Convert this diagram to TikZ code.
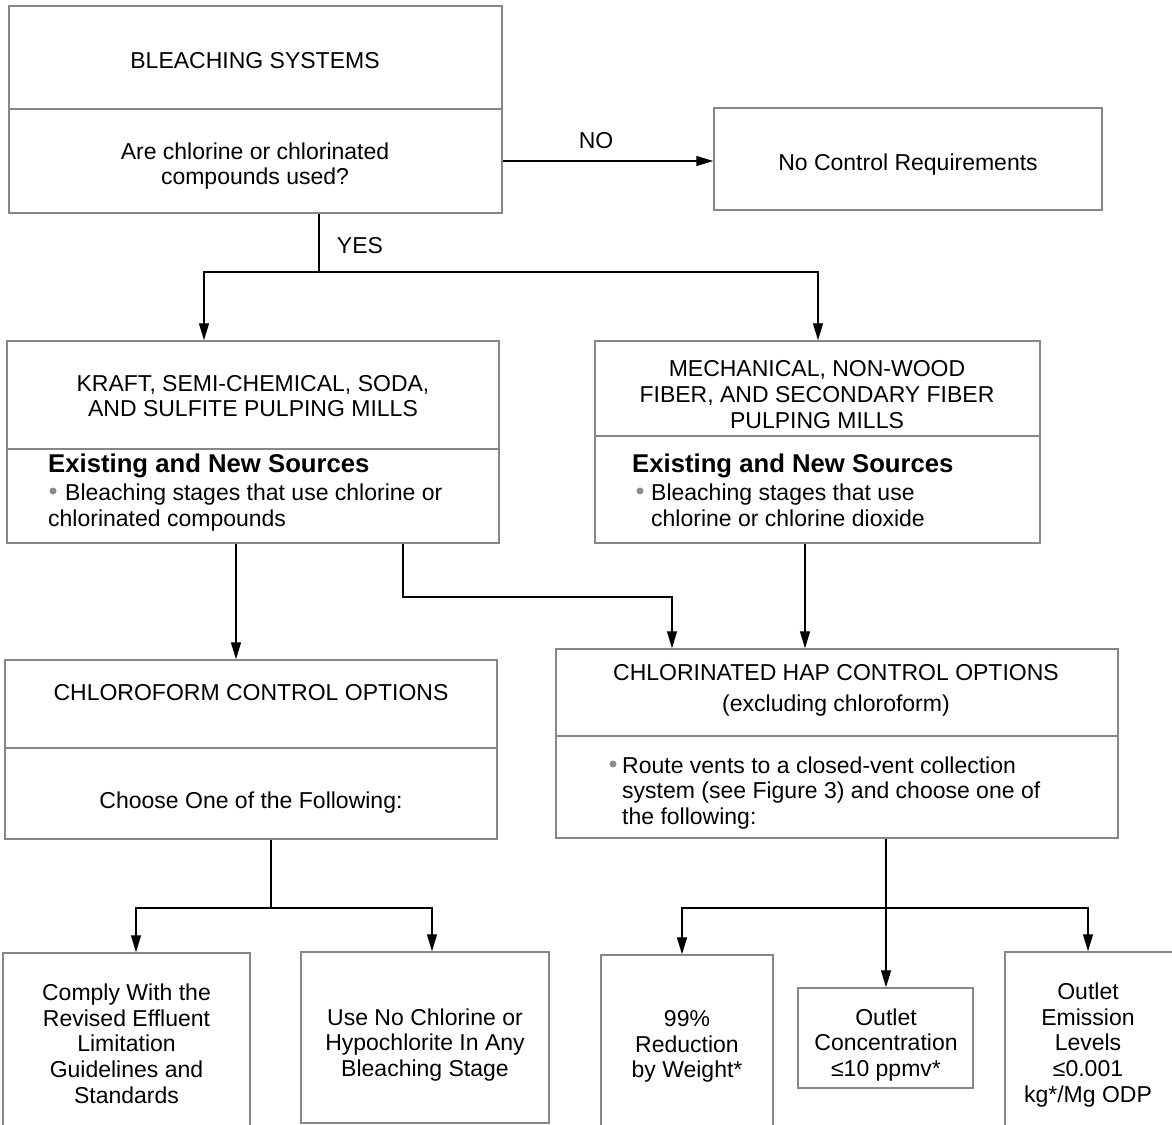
\documentclass[tikz,border=0pt]{standalone}
\usepackage{fontspec}
\setmainfont{Liberation Sans}
\usetikzlibrary{arrows.meta,calc}
\definecolor{boxgray}{RGB}{135,135,135}
\definecolor{dotgray}{RGB}{140,140,140}
\begin{document}
\begin{tikzpicture}[x=1pt,y=-1pt,
  box/.style={draw=boxgray,line width=1.5pt,inner sep=0pt,rectangle},
  txt/.style={font=\fontsize{23}{25.7}\selectfont,align=center,inner sep=0pt},
  hdr/.style={font=\fontsize{25.7}{28}\selectfont\bfseries,inner sep=0pt,anchor=base west},
  ltxt/.style={font=\fontsize{23}{25.7}\selectfont,inner sep=0pt,anchor=base west},
  conn/.style={draw=black,line width=1.4pt},
  arr/.style={conn,-{Triangle[length=17pt,width=10pt]}},
  dot/.style={circle,fill=dotgray,inner sep=0pt,minimum size=7pt}]
\useasboundingbox (0,0) rectangle (1172,1124);
\clip (0,0) rectangle (1172,1124);
\fill[white] (0,0) rectangle (1172,1124);

% boxes
\node[box,minimum width=493,minimum height=103] (bs) at (255.5,57.5) {};
\node[box,minimum width=493,minimum height=104] (q) at (255.5,161) {};
\node[box,minimum width=388,minimum height=102] (ncr) at (908,159) {};
\node[box,minimum width=492,minimum height=108] (kraft) at (253,395) {};
\node[box,minimum width=492,minimum height=94] (ksrc) at (253,496) {};
\node[box,minimum width=445,minimum height=95] (mech) at (817.5,388.5) {};
\node[box,minimum width=445,minimum height=107] (msrc) at (817.5,489.5) {};
\node[box,minimum width=492,minimum height=88] (chl) at (251,704) {};
\node[box,minimum width=492,minimum height=91] (chl2) at (251,793.5) {};
\node[box,minimum width=562,minimum height=87] (hap) at (837,692.5) {};
\node[box,minimum width=562,minimum height=102] (hap2) at (837,787) {};
\node[box,minimum width=247,minimum height=177] (b1) at (126.5,1041.5) {};
\node[box,minimum width=248,minimum height=171] (b2) at (425,1037.5) {};
\node[box,minimum width=172,minimum height=175] (b3) at (687,1042.5) {};
\node[box,minimum width=175,minimum height=100] (b4) at (885.5,1038) {};
\node[box,minimum width=175,minimum height=178] (b5) at (1092.5,1041) {};

% texts
\node[txt,anchor=base] (t1) at (255,69) {BLEACHING SYSTEMS};
\node[txt] (t2) at (255,166) {Are chlorine or chlorinated\\compounds used?};
\node[txt,anchor=base] (tno) at (596,148) {NO};
\node[txt,anchor=base] (tncr) at (908,170) {No Control Requirements};
\node[txt,anchor=base] (tyes) at (360,253) {YES};
\node[txt] (tk) at (253,396) {KRAFT, SEMI-CHEMICAL, SODA,\\AND SULFITE PULPING MILLS};
\node[hdr] (tkh) at (48,472) {Existing and New Sources};
\node[dot] (kd) at (53,491) {};
\node[ltxt] (tkb1) at (65,500) {Bleaching stages that use chlorine or};
\node[ltxt] (tkb2) at (48,526) {chlorinated compounds};
\node[txt] (tm) at (817,394.5) {MECHANICAL, NON-WOOD\\FIBER, AND SECONDARY FIBER\\PULPING MILLS};
\node[hdr] (tmh) at (632,472) {Existing and New Sources};
\node[dot] (md) at (640,491) {};
\node[ltxt] (tmb1) at (651,500) {Bleaching stages that use};
\node[ltxt] (tmb2) at (651,526) {chlorine or chlorine dioxide};
\node[txt,anchor=base] (tc) at (251,700) {CHLOROFORM CONTROL OPTIONS};
\node[txt,anchor=base] (tc2) at (251,808) {Choose One of the Following:};
\node[txt,anchor=base] (th) at (836,680) {CHLORINATED HAP CONTROL OPTIONS};
\node[txt,anchor=base] (th2) at (836,711) {(excluding chloroform)};
\node[dot] (hd) at (613,764) {};
\node[ltxt] (thb1) at (622,773) {Route vents to a closed-vent collection};
\node[ltxt] (thb2) at (622,798) {system (see Figure 3) and choose one of};
\node[ltxt] (thb3) at (622,824) {the following:};
\node[txt] (tb1) at (126.5,1043.5) {Comply With the\\Revised Effluent\\Limitation\\Guidelines and\\Standards};
\node[txt] (tb2) at (425,1045) {Use No Chlorine or\\Hypochlorite In Any\\Bleaching Stage};
\node[txt] (tb3) at (687,1046.5) {99\%\\Reduction\\by Weight*};
\node[txt] (tb4) at (886,1045) {Outlet\\Concentration\\≤10 ppmv*};
\node[txt] (tb5) at (1088,1045) {Outlet\\Emission\\Levels\\≤0.001\\kg*/Mg ODP};

% connectors
\draw[arr] (q.east) -- (ncr.west |- q.east);
\coordinate (yj) at (319,272);
\draw[conn] (q.south -| yj) -- (yj);
\draw[arr] (yj) -| (kraft.north -| 204,0);
\draw[arr] (yj) -| (mech.north -| 818,0);
\draw[arr] (ksrc.south -| 236,0) -- (chl.north -| 236,0);
\coordinate (kj) at (403,597);
\draw[arr] (ksrc.south -| kj) -- (kj) -| (hap.north -| 672,0);
\draw[arr] (msrc.south -| 805,0) -- (hap.north -| 805,0);
\coordinate (cj) at (271,908);
\draw[conn] (chl2.south -| cj) -- (cj);
\draw[arr] (cj) -| (b1.north -| 136,0);
\draw[arr] (cj) -| (b2.north -| 432,0);
\coordinate (hj) at (886,908);
\draw[arr] (hap2.south -| hj) -- (b4.north -| hj);
\draw[arr] (hj) -| (b3.north -| 682,0);
\draw[arr] (hj) -| (b5.north -| 1088,0);
\end{tikzpicture}
\end{document}
